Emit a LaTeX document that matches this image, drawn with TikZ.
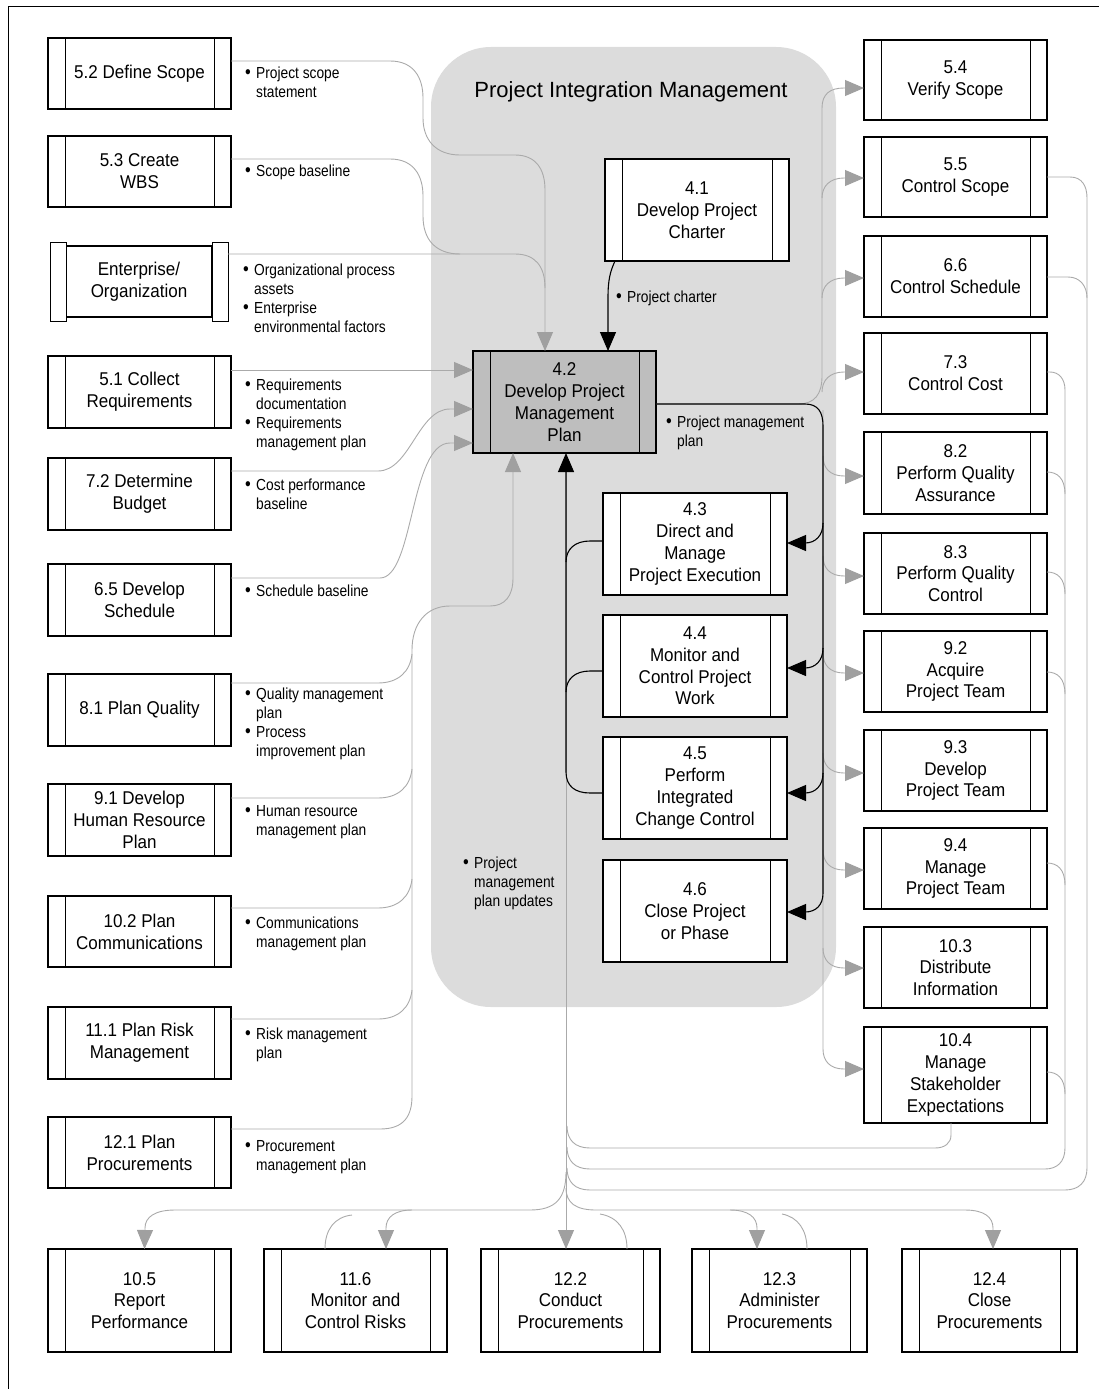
\documentclass[tikz,border=0pt]{standalone}
\usepackage{fontspec}
\setmainfont{Liberation Sans}
\newfontfamily\boxfont[FakeStretch=0.92]{Liberation Sans}
\newfontfamily\labfont[FakeStretch=0.86]{Liberation Sans}
\usetikzlibrary{arrows.meta}
\definecolor{glc}{RGB}{170,170,170}
\definecolor{gac}{RGB}{160,160,160}
\definecolor{regionc}{RGB}{220,220,220}
\definecolor{pmc}{RGB}{190,190,190}
\tikzset{
 pb/.style={draw=black, line width=1.1pt, fill=white, rectangle, inner sep=0pt, outer sep=0pt, align=center, font=\boxfont\fontsize{18.5}{21.8}\selectfont},
 lab/.style={anchor=base west, inner sep=0pt, align=left, font=\labfont\fontsize{16}{19}\selectfont},
 gline/.style={draw=glc, line width=0.9pt},
 bline/.style={draw=black, line width=1.1pt},
 garr/.style={-{Triangle[length=19pt,width=16pt,fill=gac,color=gac]}},
 barr/.style={-{Triangle[length=19pt,width=16pt]}},
}
\newcommand\pbx[7][white]{%
 \node[pb, fill=#1, minimum width=#5pt, minimum height=#6pt] (#2) at (#3,#4) {#7};
 \draw[line width=0.9pt] ([xshift=17pt]#2.north west) -- ([xshift=17pt]#2.south west)
   ([xshift=-17pt]#2.north east) -- ([xshift=-17pt]#2.south east);}
\newcommand\bl[1]{\makebox[11pt][l]{{\fontsize{19}{19}\selectfont\textbullet}}#1}
\newcommand\ct[1]{\hspace*{11pt}#1}
\begin{document}
\begin{tikzpicture}[x=1pt,y=-1pt]
\useasboundingbox (0,0) rectangle (1099,1389);
\draw[line width=1pt] (8,1389) -- (8,7) -- (1099,7);
\node[fill=regionc, rounded corners=60pt, minimum width=405pt, minimum height=960pt, inner sep=0pt, outer sep=0pt] (region) at (633.5,527) {};
\node[font=\fontsize{22}{26}\selectfont, inner sep=0pt] (title) at (631,92) {Project Integration Management};

% left column
\pbx{n52}{139.5}{73.5}{183}{71}{5.2 Define Scope}
\pbx{n53}{139.5}{171.5}{183}{71}{5.3 Create\\WBS}
\node[pb, minimum width=146pt, minimum height=71pt] (ent) at (139,281.5) {Enterprise/\\Organization};
\node[pb, line width=1pt, minimum width=16pt, minimum height=79pt] (entL) at (58,281.5) {};
\node[pb, line width=1pt, minimum width=16pt, minimum height=79pt] (entR) at (220,281.5) {};
\pbx{n51}{139.5}{392}{183}{72}{5.1 Collect\\Requirements}
\pbx{n72}{139.5}{494}{183}{72}{7.2 Determine\\Budget}
\pbx{n65}{139.5}{600}{183}{72}{6.5 Develop\\Schedule}
\pbx{n81}{139.5}{710}{183}{72}{8.1 Plan Quality}
\pbx{n91}{139.5}{820}{183}{72}{9.1 Develop\\Human Resource\\Plan}
\pbx{n102}{139.5}{931.5}{183}{71}{10.2 Plan\\Communications}
\pbx{n111}{139.5}{1043}{183}{72}{11.1 Plan Risk\\Management}
\pbx{n121}{139.5}{1152.5}{183}{71}{12.1 Plan\\Procurements}
% centre
\pbx{n41}{697}{210}{184}{102}{4.1\\Develop Project\\Charter}
\pbx[pmc]{n42}{564.5}{402}{183}{102}{4.2\\Develop Project\\Management\\Plan}
\pbx{n43}{695}{544}{184}{102}{4.3\\Direct and\\Manage\\Project Execution}
\pbx{n44}{695}{666}{184}{102}{4.4\\Monitor and\\Control Project\\Work}
\pbx{n45}{695}{788}{184}{102}{4.5\\Perform\\Integrated\\Change Control}
\pbx{n46}{695}{911}{184}{102}{4.6\\Close Project\\or Phase}
% right column
\pbx{n54}{955.5}{80}{183}{80}{5.4\\Verify Scope}
\pbx{n55}{955.5}{177}{183}{80}{5.5\\Control Scope}
\pbx{n66}{955.5}{276.5}{183}{81}{6.6\\Control Schedule}
\pbx{n73}{955.5}{373.5}{183}{81}{7.3\\Control Cost}
\pbx{n82}{955.5}{473}{183}{82}{8.2\\Perform Quality\\Assurance}
\pbx{n83}{955.5}{573.5}{183}{81}{8.3\\Perform Quality\\Control}
\pbx{n92}{955.5}{671.5}{183}{81}{9.2\\Acquire\\Project Team}
\pbx{n93}{955.5}{770.5}{183}{81}{9.3\\Develop\\Project Team}
\pbx{n94}{955.5}{868.5}{183}{81}{9.4\\Manage\\Project Team}
\pbx{n103}{955.5}{967.5}{183}{81}{10.3\\Distribute\\Information}
\pbx{n104}{955.5}{1075}{183}{96}{10.4\\Manage\\Stakeholder\\Expectations}
% bottom row
\pbx{n105}{139.5}{1300.5}{183}{103}{10.5\\Report\\Performance}
\pbx{n116}{355.5}{1300.5}{183}{103}{11.6\\Monitor and\\Control Risks}
\pbx{n122}{570.5}{1300.5}{179}{103}{12.2\\Conduct\\Procurements}
\pbx{n123}{779.5}{1300.5}{175}{103}{12.3\\Administer\\Procurements}
\pbx{n124}{989.5}{1300.5}{175}{103}{12.4\\Close\\Procurements}

% ---- gray inputs to 4.2
\draw[gline,garr] ([yshift=12.5pt]n52.east) -- (390,61) .. controls (414,61) and (423,78) .. (423,98) -- (423,118) .. controls (423,140) and (436,155) .. (460,155) -- (515,155) .. controls (535,155) and (545,168) .. (545,190) -- ([xshift=-19.5pt]n42.north);
\draw[gline] ([yshift=12.5pt]n53.east) -- (390,159) .. controls (414,159) and (423,176) .. (423,196) -- (423,216) .. controls (423,240) and (436,254) .. (460,254);
\draw[gline] ([yshift=27.5pt]entR.east) -- (515,254) .. controls (535,254) and (545,266) .. (545,288);
\draw[gline,garr] ([yshift=22pt]n51.east) -- ([yshift=32pt]n42.west);
\draw[gline,garr] ([yshift=23pt]n72.east) -- (378,471) .. controls (410,471) and (418,409) .. (450,409) -- ([yshift=-7pt]n42.west);
\draw[gline,garr] ([yshift=22pt]n65.east) -- (380,578) .. controls (414,578) and (410,443) .. (450,443) -- ([yshift=-41pt]n42.west);
\draw[gline,garr] ([yshift=23.5pt]n121.east) -- (380,1129) .. controls (404,1129) and (412,1116) .. (412,1096) -- (412,650) .. controls (412,624) and (426,606) .. (450,606) -- (490,606) .. controls (505,606) and (513,596) .. (513,578) -- ([xshift=-51.5pt]n42.south);
\draw[gline] ([yshift=27pt]n81.east) -- (378,683) .. controls (398,683) and (410,672) .. (412,654);
\draw[gline] ([yshift=22pt]n91.east) -- (378,798) .. controls (398,798) and (410,787) .. (412,769);
\draw[gline] ([yshift=23.5pt]n102.east) -- (378,908) .. controls (398,908) and (410,897) .. (412,879);
\draw[gline] ([yshift=24pt]n111.east) -- (378,1019) .. controls (398,1019) and (410,1008) .. (412,990);

% ---- gray distribution to right column
\draw[gline,garr] ([yshift=-2pt]n42.east) -- (798,404) .. controls (815,404) and (822,394) .. (822,376) -- (822,108) .. controls (822,94) and (830,88) .. (844,88) -- ([yshift=-8pt]n54.west);
\foreach \n/\ys/\yy in {n55/-1/178, n66/-1.5/278, n73/1.5/372}
  \draw[gline,garr] (822,{\yy+20}) .. controls (822,{\yy+8}) and (830,\yy) .. (844,\yy) -- ([yshift=\ys pt]\n.west);
\draw[gline,garr] (823,410) -- (823,1049) .. controls (823,1061) and (830,1069) .. (844,1069) -- ([yshift=6pt]n104.west);
\foreach \n/\ys/\yy in {n82/-3/476, n83/-2.5/576, n92/-1.5/673, n93/-2.5/773, n94/-1.5/870, n103/-0.5/968}
  \draw[gline,garr] (823,{\yy-20}) .. controls (823,{\yy-8}) and (830,\yy) .. (844,\yy) -- ([yshift=\ys pt]\n.west);

% ---- right return lines
\draw[gline] (n55.east) -- (1070,177) .. controls (1082,177) and (1087,186) .. (1087,198) -- (1087,1168) .. controls (1087,1182) and (1079,1190) .. (1065,1190) -- (590,1190) .. controls (575,1190) and (567,1182) .. (567,1168);
\draw[gline] ([yshift=-0.5pt]n66.east) -- (1068,277) .. controls (1080,277) and (1087,286) .. (1087,298);
\draw[gline] ([yshift=1.5pt]n73.east) -- (1050,372) .. controls (1059,372) and (1065,379) .. (1065,390) -- (1065,1148) .. controls (1065,1162) and (1057,1169) .. (1045,1169) -- (590,1169) .. controls (575,1169) and (567,1161) .. (567,1147);
\foreach \n/\ys/\yy in {n82/1/472, n83/1.5/572, n92/-0.5/672, n94/5.5/863, n104/3/1072}
  \draw[gline] ([yshift=\ys pt]\n.east) .. controls (1057,\yy) and (1065,{\yy+6}) .. (1065,{\yy+22});
\draw[gline] ([xshift=-4.5pt]n104.south) -- (951,1135) .. controls (951,1143) and (945,1148) .. (935,1148) -- (590,1148) .. controls (575,1148) and (567,1140) .. (567,1126);

% ---- trunk and bottom
\draw[gline,garr] (566,470) -- ([xshift=-4.5pt]n122.north);
\draw[gline,garr] (566,1172) .. controls (566,1198) and (556,1210) .. (530,1210) -- (175,1210) .. controls (155,1210) and (145,1217) .. (145,1228) -- ([xshift=5pt]n105.north);
\draw[gline,garr] (412,1210) .. controls (395,1210) and (386,1217) .. (386,1228) -- ([xshift=30.5pt]n116.north);
\draw[gline,garr] (566,1188) .. controls (566,1203) and (576,1210) .. (596,1210) -- (965,1210) .. controls (984,1210) and (993,1217) .. (993,1228) -- ([xshift=3.5pt]n124.north);
\draw[gline,garr] (730,1210) .. controls (748,1210) and (757,1217) .. (757,1228) -- ([xshift=-22.5pt]n123.north);
\draw[gline] ([xshift=-30.5pt]n116.north) .. controls (325,1230) and (334,1217) .. (352,1215);
\draw[gline] ([xshift=56.5pt]n122.north) .. controls (627,1230) and (618,1217) .. (600,1214);
\draw[gline] ([xshift=27.5pt]n123.north) .. controls (807,1230) and (798,1217) .. (782,1214);

% ---- black connectors
\draw[bline,barr] ([xshift=-82pt]n41.south) .. controls (610,272) and (608,280) .. (608,298) -- ([xshift=43.5pt]n42.north);
\draw[bline,barr] ([yshift=-2pt]n42.east) -- (805,404) .. controls (818,404) and (823,412) .. (823,426) -- (823,893) .. controls (823,905) and (816,912) .. (805,912) -- ([yshift=-1pt]n46.east);
\draw[bline,barr] (823,523) .. controls (823,535) and (816,543) .. (805,543) -- ([yshift=1pt]n43.east);
\draw[bline,barr] (823,648) .. controls (823,660) and (816,668) .. (805,668) -- ([yshift=-2pt]n44.east);
\draw[bline,barr] (823,773) .. controls (823,785) and (816,793) .. (805,793) -- ([yshift=-5pt]n45.east);
\draw[bline,barr] ([yshift=-5pt]n45.west) -- (590,793) .. controls (575,793) and (566,786) .. (566,772) -- ([xshift=1.5pt]n42.south);
\draw[bline] ([yshift=-5pt]n44.west) -- (590,671) .. controls (575,671) and (566,679) .. (566,692);
\draw[bline] ([yshift=3pt]n43.west) -- (590,541) .. controls (575,541) and (566,549) .. (566,562);

% ---- labels (anchor = baseline of last line)
\node[lab] (l1) at (245,97) {\bl{Project scope}\\\ct{statement}};
\node[lab] (l2) at (245,176) {\bl{Scope baseline}};
\node[lab] (l3) at (243,332) {\bl{Organizational process}\\\ct{assets}\\\bl{Enterprise}\\\ct{environmental factors}};
\node[lab] (l4) at (245,447) {\bl{Requirements}\\\ct{documentation}\\\bl{Requirements}\\\ct{management plan}};
\node[lab] (l5) at (245,509) {\bl{Cost performance}\\\ct{baseline}};
\node[lab] (l6) at (245,596) {\bl{Schedule baseline}};
\node[lab] (l7) at (245,756) {\bl{Quality management}\\\ct{plan}\\\bl{Process}\\\ct{improvement plan}};
\node[lab] (l8) at (245,835) {\bl{Human resource}\\\ct{management plan}};
\node[lab] (l9) at (245,947) {\bl{Communications}\\\ct{management plan}};
\node[lab] (l10) at (245,1058) {\bl{Risk management}\\\ct{plan}};
\node[lab] (l11) at (245,1170) {\bl{Procurement}\\\ct{management plan}};
\node[lab] (l12) at (616,302) {\bl{Project charter}};
\node[lab] (l13) at (666,446) {\bl{Project management}\\\ct{plan}};
\node[lab] (l14) at (463,906) {\bl{Project}\\\ct{management}\\\ct{plan updates}};
\end{tikzpicture}
\end{document}
